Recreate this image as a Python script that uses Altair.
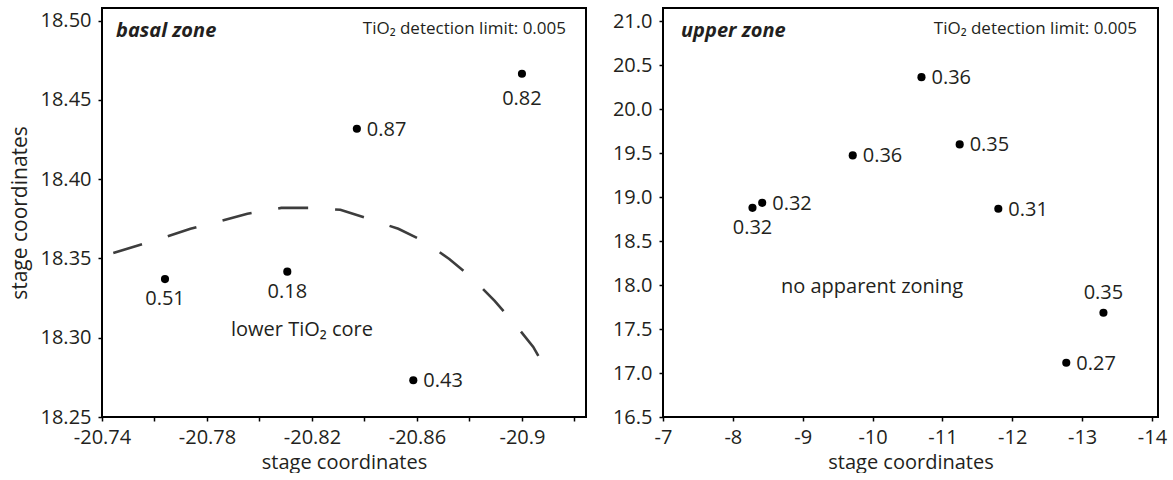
import altair as alt
import pandas as pd

FONT = "Open Sans"
INK = "#231f20"

# ---- basal zone (left panel) ----
basal_x = [-20.764, -20.8106, -20.8371, -20.8586, -20.900]
basal_y = [18.337, 18.3417, 18.4318, 18.2732, 18.4665]
basal_lab = ["0.51", "0.18", "0.87", "0.43", "0.82"]

curve_x = [-20.7443, -20.7621, -20.7737, -20.7854, -20.7954, -20.8083, -20.8191,
           -20.8308, -20.8416, -20.8529, -20.8624, -20.8723, -20.8810, -20.8896,
           -20.8970, -20.9043, -20.9069]
curve_y = [18.3535, 18.3624, 18.3687, 18.3737, 18.3782, 18.3819, 18.3819,
           18.3807, 18.3750, 18.3687, 18.3611, 18.3497, 18.3378, 18.3232,
           18.3093, 18.2942, 18.2866]

basal_xticks = [-20.74, -20.76, -20.78, -20.80, -20.82, -20.84, -20.86, -20.88, -20.90, -20.92]
basal_yticks = [18.25, 18.30, 18.35, 18.40, 18.45, 18.50]

# ---- upper zone (right panel) ----
upper_x = [-8.281, -8.42, -9.716, -10.70, -11.247, -11.80, -13.305, -12.773]
upper_y = [18.878, 18.935, 19.474, 20.364, 19.599, 18.867, 17.685, 17.117]
upper_lab = ["0.32", "0.32", "0.36", "0.36", "0.35", "0.31", "0.35", "0.27"]

upper_xticks = [-7, -8, -9, -10, -11, -12, -13, -14]
upper_yticks = [16.5, 17.0, 17.5, 18.0, 18.5, 19.0, 19.5, 20.0, 20.5, 21.0]

# label placement (which side of the dot each value label sits)
basal_side = ["below", "below", "right", "right", "below_far"]
upper_side = ["below", "right", "right", "right", "right", "right", "above", "right"]

W1, W2, H = 484, 495, 409


def point_layers(df, xs, ys):
    pts = alt.Chart(df).mark_circle(size=66, color="black", opacity=1).encode(x=xs, y=ys)
    layers = [pts]
    cfg = {
        "right": dict(align="left", baseline="middle", dx=10, dy=1),
        "below": dict(align="center", baseline="middle", dx=0, dy=20),
        "below_far": dict(align="center", baseline="middle", dx=0, dy=25),
        "above": dict(align="center", baseline="middle", dx=0, dy=-20),
    }
    for side, kw in cfg.items():
        sub = df[df["side"] == side]
        if len(sub):
            layers.append(
                alt.Chart(sub).mark_text(font=FONT, fontSize=20, color=INK, **kw)
                .encode(x=xs, y=ys, text="lab:N")
            )
    return layers


def note(text, x, y, align="left", size=20, style="normal", weight="normal"):
    return alt.Chart(pd.DataFrame({"t": [text]})).mark_text(
        font=FONT, fontSize=size, color=INK, align=align, baseline="alphabetic",
        fontStyle=style, fontWeight=weight,
    ).encode(x=alt.value(x), y=alt.value(y), text="t:N")


# left
df_b = pd.DataFrame({"x": basal_x, "y": basal_y, "lab": basal_lab, "side": basal_side})
df_c = pd.DataFrame({"x": curve_x, "y": curve_y, "i": range(len(curve_x))})

bx = alt.X("x:Q", scale=alt.Scale(domain=[-20.9244, -20.74], reverse=True, nice=False, zero=False),
           axis=alt.Axis(values=basal_xticks, title="stage coordinates",
                         labelExpr="abs(round(datum.value*100)) % 4 == 2 ? (abs(round(datum.value*100)) == 2090 ? '-20.9' : '-' + format(abs(datum.value), '.2f')) : ''"))
by = alt.Y("y:Q", scale=alt.Scale(domain=[18.25, 18.508], nice=False, zero=False),
           axis=alt.Axis(values=basal_yticks, format=".2f", title="stage coordinates"))

curve = alt.Chart(df_c).mark_line(color="#3d3d3d", strokeWidth=2.6, strokeDash=[30, 27]).encode(
    x=bx, y=by, order="i:Q")

left = alt.layer(
    curve, *point_layers(df_b, bx, by),
    note("basal zone", 14, 29, style="italic", weight="bold", size=20),
    note("TiO₂ detection limit: 0.005", W1 - 20, 26, align="right", size=17),
    note("lower TiO₂ core", 200, 328, align="center"),
).properties(width=W1, height=H)

# right
df_u = pd.DataFrame({"x": upper_x, "y": upper_y, "lab": upper_lab, "side": upper_side})
ux = alt.X("x:Q", scale=alt.Scale(domain=[-14.086, -7], reverse=True, nice=False, zero=False),
           axis=alt.Axis(values=upper_xticks, title="stage coordinates",
                         labelExpr="'-' + format(abs(datum.value), 'd')"))
uy = alt.Y("y:Q", scale=alt.Scale(domain=[16.5, 21.15], nice=False, zero=False),
           axis=alt.Axis(values=upper_yticks, format=".1f", title=None))

right = alt.layer(
    *point_layers(df_u, ux, uy),
    note("upper zone", 18, 29, style="italic", weight="bold", size=20),
    note("TiO₂ detection limit: 0.005", W2 - 21, 26, align="right", size=17),
    note("no apparent zoning", 209, 285, align="center"),
).properties(width=W2, height=H)

chart = alt.hconcat(left, right, spacing=24).properties(
    padding={"left": 8, "top": 7, "right": 0, "bottom": 0},
    background="white",
).configure_view(stroke="black", strokeWidth=2).configure_axis(
    grid=False, domain=False, ticks=True, tickColor="black", tickSize=4, tickWidth=1.5,
    labelFont=FONT, labelColor=INK,
    labelFlush=False, labelOverlap=False,
    titleFont=FONT, titleColor=INK, titleFontWeight="normal",
).configure_axisY(titlePadding=10, labelPadding=7, labelFontSize=20, titleFontSize=21).configure_axisX(
    titlePadding=5, labelPadding=6, labelFontSize=20, titleFontSize=20)

chart.save("out.html", embed_options={"renderer": "svg", "actions": False})
